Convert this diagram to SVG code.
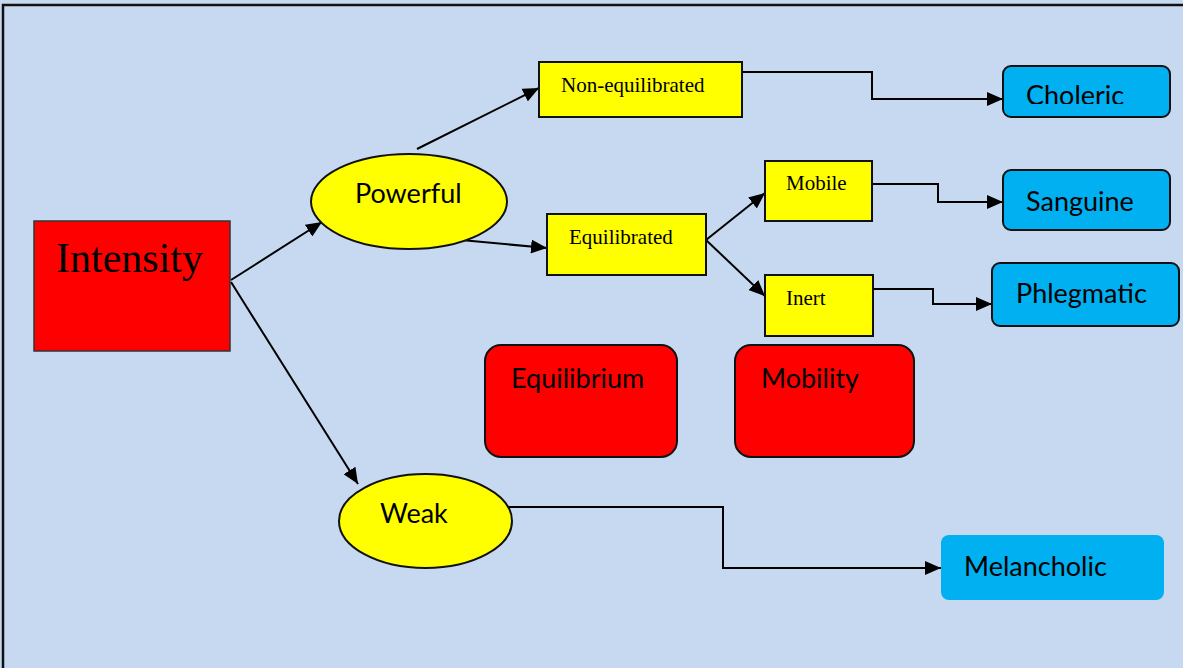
<svg xmlns="http://www.w3.org/2000/svg" width="1183" height="668" viewBox="0 0 1183 668">
  <style>
    .sans { font-family: Lato, "Liberation Sans", sans-serif; font-size: 27px; fill: #000; }
    .serif { font-family: "Liberation Serif", serif; font-size: 21px; fill: #000; }
    .yel { fill: #FFFF00; stroke: #111; stroke-width: 2; }
    .red { fill: #FF0000; stroke: #111; stroke-width: 2; }
    .blue { fill: #00B0F0; stroke: #111; stroke-width: 2; }
    .link { fill: none; stroke: #000; stroke-width: 2; }
  </style>
  <defs>
    <marker id="arrow" viewBox="0 0 16 14" refX="16" refY="7" markerWidth="16" markerHeight="14" markerUnits="userSpaceOnUse" orient="auto">
      <path d="M0,0 L16,7 L0,14 z" fill="#000"/>
    </marker>
    <clipPath id="cholericClip">
      <rect x="1003" y="66" width="167" height="38"/>
    </clipPath>
  </defs>

  <!-- page background and frame -->
  <rect x="0" y="0" width="1183" height="668" fill="#C6D9F0"/>
  <path d="M3,668 V5 H1183" fill="none" stroke="#111" stroke-width="2.5"/>

  <!-- connectors -->
  <g id="connectors">
    <path class="link" d="M231,280 L322,222" marker-end="url(#arrow)"/>
    <path class="link" d="M231,282 L358,484" marker-end="url(#arrow)"/>
    <path class="link" d="M417,149 L539,88" marker-end="url(#arrow)"/>
    <path class="link" d="M461,240 L547,248" marker-end="url(#arrow)"/>
    <path class="link" d="M706,240 L765,193" marker-end="url(#arrow)"/>
    <path class="link" d="M706,240 L765,296" marker-end="url(#arrow)"/>
    <path class="link" d="M742,72 H872 V99 H1003" marker-end="url(#arrow)"/>
    <path class="link" d="M873,184 H938 V202 H1003" marker-end="url(#arrow)"/>
    <path class="link" d="M873,289 H933 V304 H992" marker-end="url(#arrow)"/>
    <path class="link" d="M508,507 H723 V568 H941" marker-end="url(#arrow)"/>
  </g>

  <g id="intensity">
    <rect class="red" x="34" y="221" width="196" height="130" style="stroke:#333;stroke-width:1.5"/>
    <text x="56" y="272" style="font-family:'Liberation Serif',serif;font-size:42px">Intensity</text>
  </g>

  <g id="powerful">
    <ellipse class="yel" cx="409" cy="201.5" rx="98" ry="47.5"/>
    <text class="sans" x="355" y="203">Powerful</text>
  </g>

  <g id="weak">
    <ellipse class="yel" cx="425.5" cy="521" rx="86.5" ry="47"/>
    <text class="sans" x="380" y="523">Weak</text>
  </g>

  <g id="non-equilibrated">
    <rect class="yel" x="539" y="62" width="203" height="55"/>
    <text class="serif" x="561" y="92">Non-equilibrated</text>
  </g>

  <g id="equilibrated">
    <rect class="yel" x="547" y="214" width="159" height="61"/>
    <text class="serif" x="569" y="244">Equilibrated</text>
  </g>

  <g id="mobile">
    <rect class="yel" x="765" y="161" width="107" height="60"/>
    <text class="serif" x="786" y="190">Mobile</text>
  </g>

  <g id="inert">
    <rect class="yel" x="765" y="275" width="108" height="61"/>
    <text class="serif" x="786" y="305">Inert</text>
  </g>

  <g id="equilibrium">
    <rect class="red" x="485" y="345" width="192" height="112" rx="16"/>
    <text class="sans" x="511" y="388">Equilibrium</text>
  </g>

  <g id="mobility">
    <rect class="red" x="735" y="345" width="179" height="112" rx="16"/>
    <text class="sans" x="761" y="388">Mobility</text>
  </g>

  <g id="choleric">
    <rect class="blue" x="1003" y="66" width="167" height="51" rx="8"/>
    <text class="sans" x="1026" y="105" clip-path="url(#cholericClip)">Choleric</text>
  </g>

  <g id="sanguine">
    <rect class="blue" x="1003" y="170" width="167" height="60" rx="8"/>
    <text class="sans" x="1026" y="211">Sanguine</text>
  </g>

  <g id="phlegmatic">
    <rect class="blue" x="992" y="263" width="187" height="63" rx="8"/>
    <text class="sans" x="1016" y="303">Phlegmatic</text>
  </g>

  <g id="melancholic">
    <rect x="941" y="535" width="223" height="65" rx="8" fill="#00B0F0"/>
    <text class="sans" x="964" y="576">Melancholic</text>
  </g>
</svg>
